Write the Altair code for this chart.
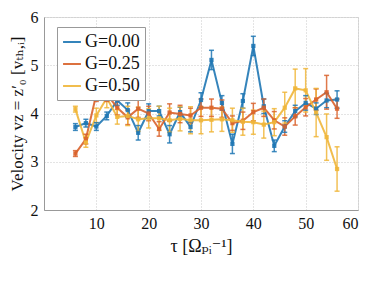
import altair as alt
import pandas as pd

tau = [6, 8, 10, 12, 14, 16, 18, 20, 22, 24, 26, 28, 30, 32, 34, 36, 38, 40, 42, 44, 46, 48, 50, 52, 54, 56]

v_g000 = [3.72, 3.80, 3.73, 3.95, 4.27, 4.07, 3.60, 4.05, 4.05, 3.57, 4.03, 3.72, 4.28,
          5.11, 4.22, 3.37, 4.26, 5.40, 4.15, 3.33, 3.73, 4.05, 4.22, 4.10, 4.27, 4.29]
e_g000 = [0.07, 0.08, 0.08, 0.08, 0.10, 0.15, 0.15, 0.15, 0.10, 0.18, 0.10, 0.10, 0.15,
          0.20, 0.15, 0.20, 0.15, 0.20, 0.15, 0.12, 0.12, 0.12, 0.15, 0.12, 0.15, 0.18]

v_g025 = [3.17, 3.47, 4.40, 4.40, 4.12, 3.92, 4.10, 4.00, 3.68, 4.02, 3.99, 3.96, 4.12,
          4.12, 4.10, 3.80, 3.85, 4.03, 4.12, 3.86, 3.73, 3.94, 4.13, 4.29, 4.44, 4.10]
e_g025 = [0.06, 0.10, 0.15, 0.15, 0.15, 0.15, 0.18, 0.15, 0.15, 0.18, 0.18, 0.15, 0.18,
          0.18, 0.18, 0.15, 0.18, 0.18, 0.18, 0.18, 0.18, 0.18, 0.18, 0.22, 0.35, 0.20]

v_g050 = [4.09, 3.40, 3.96, 4.32, 3.93, 3.95, 3.88, 3.90, 3.90, 3.86, 3.89, 3.86, 3.86,
          3.87, 3.88, 3.86, 3.83, 3.82, 3.77, 3.82, 4.12, 4.52, 4.48, 4.02, 3.51, 2.85]
e_g050 = [0.06, 0.10, 0.15, 0.20, 0.15, 0.20, 0.25, 0.20, 0.25, 0.25, 0.25, 0.28, 0.28,
          0.25, 0.25, 0.25, 0.28, 0.25, 0.28, 0.28, 0.32, 0.40, 0.45, 0.50, 0.48, 0.46]

labels = ["G=0.00", "G=0.25", "G=0.50"]
colors = ["#1f77b4", "#d9622b", "#f0b63a"]

rows = []
for lab, vals, errs in zip(labels, [v_g000, v_g025, v_g050], [e_g000, e_g025, e_g050]):
    for t, v, e in zip(tau, vals, errs):
        rows.append({"tau": t, "v": v, "lo": v - e, "hi": v + e, "G": lab})
df = pd.DataFrame(rows)

FONT = "Liberation Serif, Times New Roman, DejaVu Serif, serif"
xs = alt.Scale(domain=[0, 60], nice=False)
ys = alt.Scale(domain=[2, 6], nice=False)
cscale = alt.Scale(domain=labels, range=colors)
col = alt.Color("G:N", scale=cscale,
                legend=alt.Legend(title=None, orient="none", legendX=13, legendY=10,
                                  symbolType="stroke", symbolStrokeWidth=2, symbolSize=320,
                                  labelFont=FONT, labelFontSize=18, labelColor="#111",
                                  fillColor="white", strokeColor="#999", padding=5,
                                  rowPadding=3, labelOffset=3))
nocol = alt.Color("G:N", legend=None, scale=cscale)

x = alt.X("tau:Q", scale=xs,
          axis=alt.Axis(title="τ [Ωₚᵢ⁻¹]", values=[10, 20, 30, 40, 50, 60], format="d",
                        grid=True, gridDash=[1, 2], gridColor="#c8c8c8",
                        domainColor="#999", ticks=False, labelPadding=5,
                        labelFont=FONT, labelFontSize=16, labelColor="#111",
                        titleFont=FONT, titleFontSize=18, titleFontWeight="normal",
                        titleColor="#111", titlePadding=6))
y = alt.Y("v:Q", scale=ys,
          axis=alt.Axis(title="Velocity vz = z′₀ [vₜₕ,ᵢ]", values=[2, 3, 4, 5, 6], format="d",
                        grid=True, gridDash=[1, 2], gridColor="#c8c8c8",
                        domainColor="#999", ticks=False, labelPadding=6,
                        labelFont=FONT, labelFontSize=16, labelColor="#111",
                        titleFont=FONT, titleFontSize=17, titleFontWeight="normal",
                        titleColor="#111", titlePadding=4))

base = alt.Chart(df)
rules = base.mark_rule(strokeWidth=1.5, opacity=0.85).encode(
    x="tau:Q", y=alt.Y("lo:Q", scale=ys), y2="hi:Q", color=nocol)
cap_lo = base.mark_tick(orient="horizontal", size=5, thickness=1.5, opacity=0.85).encode(
    x="tau:Q", y=alt.Y("lo:Q", scale=ys), color=nocol)
cap_hi = base.mark_tick(orient="horizontal", size=5, thickness=1.5, opacity=0.85).encode(
    x="tau:Q", y=alt.Y("hi:Q", scale=ys), color=nocol)
lines = base.mark_line(strokeWidth=2, opacity=0.9).encode(x=x, y=y, color=col)
pts = base.mark_square(size=18, opacity=0.9, filled=True).encode(
    x="tau:Q", y="v:Q", color=nocol)

chart = alt.layer(lines, rules, cap_lo, cap_hi, pts).properties(
    width=314, height=193,
    autosize=alt.AutoSizeParams(type="none"),
    padding={"left": 36, "top": 9, "right": 8, "bottom": 60},
).configure_view(stroke="#999", strokeWidth=1).configure(background="white", font=FONT)

chart.save("out.html", embed_options={"renderer": "svg", "actions": False})
